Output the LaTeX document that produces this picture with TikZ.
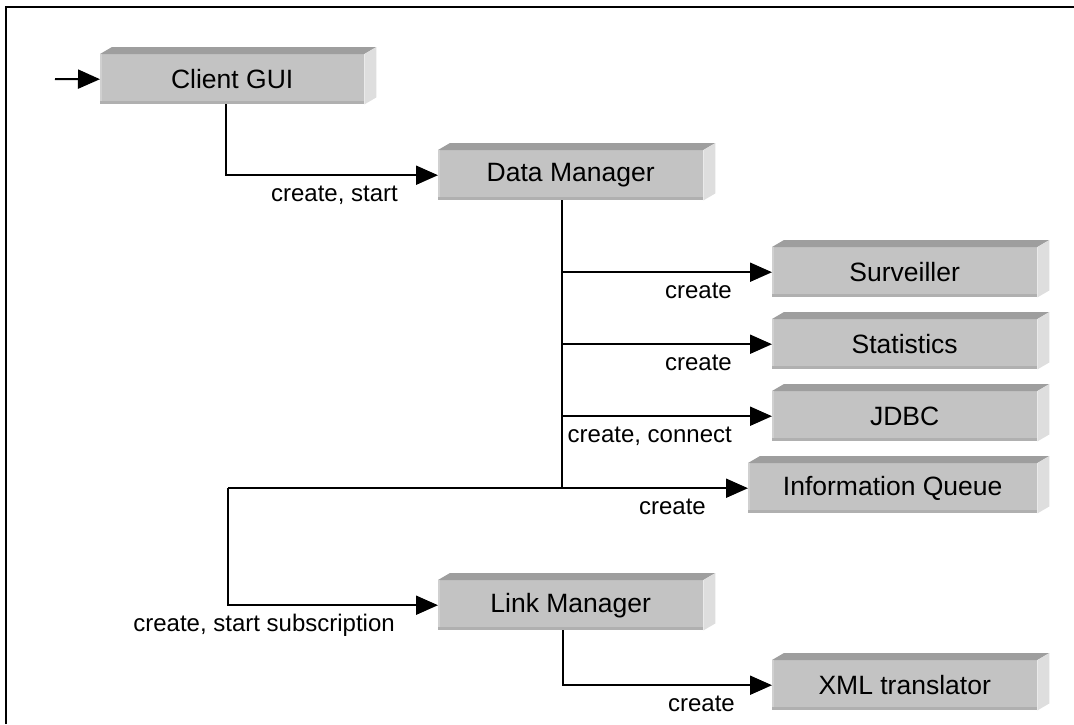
\documentclass[tikz,border=0pt]{standalone}
\usepackage{fontspec}
\setmainfont{Liberation Sans}
\usetikzlibrary{arrows.meta}
\definecolor{frontgray}{RGB}{195,195,195}
\definecolor{topgray}{RGB}{158,158,158}
\definecolor{sidegray}{RGB}{222,222,222}
\definecolor{edgegray}{RGB}{176,176,176}
\definecolor{lightedge}{RGB}{208,208,208}
\begin{document}
\begin{tikzpicture}[x=1pt,y=-1pt,
  blockbox/.style={fill=frontgray, inner sep=0pt, anchor=north west,
    minimum height=50pt, font=\fontsize{26.5}{30}\selectfont},
  link/.style={line width=2pt, -{Triangle[length=22pt,width=19pt]}},
  plainlink/.style={line width=2pt},
  lbl/.style={font=\fontsize{24}{28}\selectfont, inner sep=0pt, anchor=base east}]
\useasboundingbox (0,0) rectangle (1074,724);
% outer frame
\draw[line width=2pt] (6,724) -- (6,6.5) -- (1074,6.5);

% blocks (front faces)
\node[blockbox, minimum width=264pt] (cgui) at (100,54)  {Client GUI};
\node[blockbox, minimum width=265pt] (dm)   at (438,150) {Data Manager};
\node[blockbox, minimum width=265pt] (surv) at (772,247) {Surveiller};
\node[blockbox, minimum width=265pt] (stat) at (772,319) {Statistics};
\node[blockbox, minimum width=265pt] (jdbc) at (772,391) {JDBC};
\node[blockbox, minimum width=289pt] (iq)   at (748,463) {Information Queue};
\node[blockbox, minimum width=265pt] (lm)   at (438,580) {Link Manager};
\node[blockbox, minimum width=265pt] (xml)  at (772,660) {XML translator};

% top and side faces, edge shading
\foreach \n in {cgui,dm,surv,stat,jdbc,iq,lm,xml}{
  \fill[topgray] (\n.north west) -- ++(12,-7) -- ([shift={(12,-7)}]\n.north east)
     -- (\n.north east) -- cycle;
  \fill[sidegray] (\n.north east) -- ++(12,-7) -- ([shift={(12,-7)}]\n.south east)
     -- (\n.south east) -- cycle;
  \fill[edgegray] (\n.south west) rectangle ([yshift=3pt]\n.south east);
  \fill[lightedge] (\n.north west) rectangle ([xshift=2pt,yshift=3pt]\n.south west);
}

% connectors
\coordinate (entry) at (55,79);
\draw[link] (entry) -- (cgui.west);

\draw[link] ([xshift=-6pt]cgui.south) |- (dm.west);
\node[lbl] (l-dm) at ([xshift=-40pt,yshift=-26pt]dm.west) {create, start};

\coordinate (dmfoot) at ([xshift=-9pt]dm.south);
\draw[plainlink] (dmfoot) -- (dmfoot |- iq.west);
\draw[link] (dmfoot |- surv.west) -- (surv.west);
\draw[link] (dmfoot |- stat.west) -- (stat.west);
\draw[link] (dmfoot |- jdbc.west) -- (jdbc.west);
\node[lbl] (l-surv) at ([xshift=-40pt,yshift=-26pt]surv.west) {create};
\node[lbl] (l-stat) at ([xshift=-40pt,yshift=-26pt]stat.west) {create};
\node[lbl] (l-jdbc) at ([xshift=-40pt,yshift=-26pt]jdbc.west) {create, connect};

\coordinate (lmturn) at (228,0);
\draw[link] (lmturn |- iq.west) -- (iq.west);
\node[lbl] (l-iq) at ([xshift=-42pt,yshift=-26pt]iq.west) {create};
\draw[link] (lmturn |- iq.west) -- (lmturn |- lm.west) -- (lm.west);
\node[lbl] (l-lm) at ([xshift=-43pt,yshift=-26pt]lm.west) {create, start subscription};

\draw[link] ([xshift=-8pt]lm.south) |- (xml.west);
\node[lbl] (l-xml) at ([xshift=-37pt,yshift=-26pt]xml.west) {create};
\end{tikzpicture}
\end{document}
